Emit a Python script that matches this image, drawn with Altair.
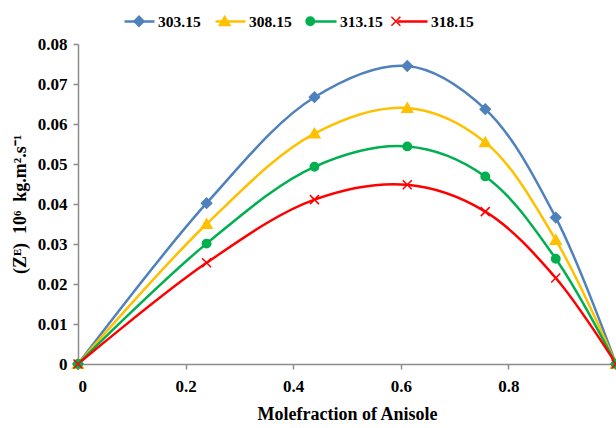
import altair as alt
import pandas as pd

# Excess acoustic impedance vs. mole fraction of anisole at four temperatures (K)
series = ["303.15", "308.15", "313.15", "318.15"]
colors = ["#4F81BD", "#FFC000", "#00B050", "#FF0000"]
mole_fraction = [0.0, 0.239, 0.4395, 0.612, 0.757, 0.888, 1.0]

ze_303 = [0.0, 0.0402, 0.0667, 0.0745, 0.0637, 0.0366, 0.0]
ze_308 = [0.0, 0.0350, 0.0576, 0.0640, 0.0554, 0.0310, 0.0]
ze_313 = [0.0, 0.0301, 0.0493, 0.0544, 0.0469, 0.0263, 0.0]
ze_318 = [0.0, 0.0253, 0.0411, 0.0448, 0.0381, 0.0215, 0.0]

x_ticks = [0, 0.2, 0.4, 0.6, 0.8]
y_ticks = [0, 0.01, 0.02, 0.03, 0.04, 0.05, 0.06, 0.07, 0.08]

# marker glyphs (unit square -1..1, drawn at size 900 -> 30 px box)
marker_paths = [
    "M0,-0.34L0.34,0L0,0.34L-0.34,0Z",                               # diamond
    "M0,-0.34L0.36,0.28L-0.36,0.28Z",                                # triangle
    "M-0.28,0A0.28,0.28 0 1,0 0.28,0A0.28,0.28 0 1,0 -0.28,0Z",      # circle
    "M-0.3,-0.3L0.3,0.3M-0.3,0.3L0.3,-0.3",                          # x
]

values = [ze_303, ze_308, ze_313, ze_318]
marker_keys = ["m" + s for s in series]
rows = []
for s, k, vals in zip(series, marker_keys, values):
    for xv, yv in zip(mole_fraction, vals):
        rows.append({"series": s, "marker": k, "x": xv, "ze": yv})
df = pd.DataFrame(rows)

FONT = "Liberation Serif"
LEGEND_FONT_SIZE = 15.5
LABEL_OFFSET = 2
COLUMN_PADDING = 9
# every legend label is five digits and a point: 2.75 em in this serif face
label_width = 2.75 * LEGEND_FONT_SIZE

x_enc = alt.X(
    "x:Q",
    scale=alt.Scale(domain=[0, 1], nice=False),
    axis=alt.Axis(values=x_ticks, title="Molefraction of Anisole", format="~g",
                  labelOverlap=False),
)
y_enc = alt.Y(
    "ze:Q",
    scale=alt.Scale(domain=[0, 0.08], nice=False),
    axis=alt.Axis(values=y_ticks, title="(Zᴱ)\u00a0 10⁶\u00a0 kg.m².s⁻¹",
                  format="~g", labelOverlap=False),
)

common_legend = dict(
    orient="none",
    legendX=45,
    legendY=-39,
    direction="horizontal",
    title=None,
    symbolSize=900,
    symbolOpacity=1,
    labelFont=FONT,
    labelFontSize=LEGEND_FONT_SIZE,
    labelFontWeight="bold",
    labelColor="black",
    labelOffset=LABEL_OFFSET,
)
# line part of each legend entry, with the series names
line_legend = alt.Legend(symbolStrokeWidth=2.5, columnPadding=COLUMN_PADDING,
                         **common_legend)
# marker part, no text, spaced to sit on the middle of each line
marker_legend = alt.Legend(
    symbolStrokeWidth=1.5,
    labelExpr="''",
    columnPadding=COLUMN_PADDING + label_width,
    **common_legend,
)

base = alt.Chart(df)

lines = base.mark_line(interpolate="catmull-rom", strokeWidth=2.5).encode(
    x=x_enc,
    y=y_enc,
    color=alt.Color("series:N", scale=alt.Scale(domain=series, range=colors),
                    legend=line_legend),
    order=alt.Order("x:Q"),
)

markers = base.mark_point(filled=True, size=900, strokeWidth=1.5, opacity=1).encode(
    x=x_enc,
    y=y_enc,
    shape=alt.Shape("marker:N", scale=alt.Scale(domain=marker_keys, range=marker_paths),
                    legend=marker_legend),
    fill=alt.Fill("marker:N", scale=alt.Scale(domain=marker_keys, range=colors),
                  legend=marker_legend),
    stroke=alt.Stroke("marker:N", scale=alt.Scale(domain=marker_keys, range=colors),
                      legend=marker_legend),
)

chart = (
    alt.layer(lines, markers)
    .properties(
        width=538,
        height=320,
        autosize=alt.AutoSizeParams(type="none"),
        padding={"left": 78, "top": 44, "right": 0, "bottom": 64},
    )
    .configure_view(stroke=None)
    .configure_legend(labelFont=FONT, labelFontSize=LEGEND_FONT_SIZE,
                      labelFontWeight="bold")
    .configure_axis(
        grid=False,
        labelOverlap=False,
        domainColor="#8c8c8c",
        domainWidth=1.5,
        tickColor="#8c8c8c",
        tickWidth=1.5,
        tickSize=5,
        labelFont=FONT,
        labelFontSize=17,
        labelFontWeight="bold",
        labelColor="black",
        titleFont=FONT,
        titleFontSize=18,
        titleFontWeight="bold",
        titleColor="black",
    )
    .configure_axisX(labelPadding=9, titlePadding=11)
    .configure_axisY(labelPadding=6, titlePadding=8)
)

chart.save("out.html", embed_options={"renderer": "svg", "actions": False})
